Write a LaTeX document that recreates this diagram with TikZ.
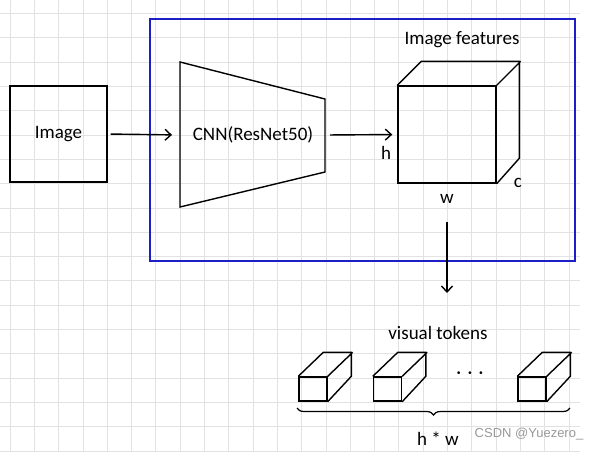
\documentclass[tikz,border=0pt]{standalone}
\usepackage{fontspec}
\setmainfont{Carlito}
\newfontfamily\wmfont{Liberation Sans}
\usetikzlibrary{positioning,arrows.meta,decorations.pathreplacing}
\definecolor{gridgray}{RGB}{226,226,226}
\definecolor{frameblue}{RGB}{30,30,200}

\begin{document}
\begin{tikzpicture}[x=1pt, y=-1pt, >={Straight Barb[length=6pt,width=11pt]}, line width=1.4pt,
		every node/.style={font=\fontsize{19}{22}\selectfont},
		box node/.style={draw, minimum width=97pt, minimum height=96pt, inner sep=0pt},
		face node/.style={draw, minimum width=98pt, minimum height=97pt, inner sep=0pt},
		token node/.style={draw, minimum width=28pt, minimum height=24pt, inner sep=0pt},
		label node/.style={inner sep=1pt}]
		
		\useasboundingbox (0,0) rectangle (598,451);
		\fill[white] (0,0) rectangle (598,451);
		
		% background grid
		\foreach \i in {0,...,23}
		\draw[gridgray, line width=0.8pt] (10+24.3*\i,0) -- (10+24.3*\i,451);
		\foreach \j in {0,...,18}
		\draw[gridgray, line width=0.8pt] (0,13.5+24.3*\j) -- (580,13.5+24.3*\j);
		
		% blue frame
		\draw[frameblue, line width=2.2pt] (150,19) rectangle (575,261);
		
		\node[box node] (img) at (58.5,134) {Image};
		
		% CNN trapezoid
		\coordinate (cnnL) at (180,135);
		\coordinate (cnnR) at (325,135);
		\draw (180,62) -- (325,99) -- (325,172) -- (180,207) -- cycle;
		\node (cnn) at (253,135) {CNN(ResNet50)};
		
		% feature cube
		\node[face node] (feat) at (447,134.5) {};
		\draw (feat.north west) -- ++(24,-24) -- ++(98,0) -- ++(0,97) -- (feat.south east)
		(feat.north east) -- ++(24,-24);
		\node[label node] (title) at (462,40) {Image features};
		\node[label node] (hh) at (386,153) {h};
		\node[label node] (cc) at (518,183) {c};
		\node[label node] (ww) at (447,199) {w};
		
		\path[->]
		(img.east) edge[shorten <=3pt, shorten >=8pt] (cnnL)
		(cnnR) edge[shorten <=5pt, shorten >=5pt] (feat.west);
		\draw[->] ([yshift=-23pt]ww.center) -- ++(0,71) coordinate (tip);
		
		% visual tokens
		\node[label node] (vt) at (438,333) {visual tokens};
		\node[token node] (tok1) at (313,389) {};
		\node[token node] (tok2) at (387.5,389) {};
		\node[token node] (tok3) at (532,389) {};
		\foreach \t in {tok1,tok2,tok3}
		\draw (\t.north west) -- ++(25,-24) -- ++(28,0) -- ++(0,24) -- (\t.south east)
		(\t.north east) -- ++(25,-24);
		\node (dots) at (470,375) {·\,\,·\,\,·};
		
		\draw[decorate, decoration={brace, mirror, amplitude=7pt}, line width=1.2pt]
		(297,408) -- (570,408);
		\node[label node] (hw) at (438,439) {h * w};
		
		\node[font=\wmfont\fontsize{13}{15}\selectfont, text=gray!80] (mark) at (529,434) {CSDN @Yuezero\_};
\end{tikzpicture}
\end{document}
